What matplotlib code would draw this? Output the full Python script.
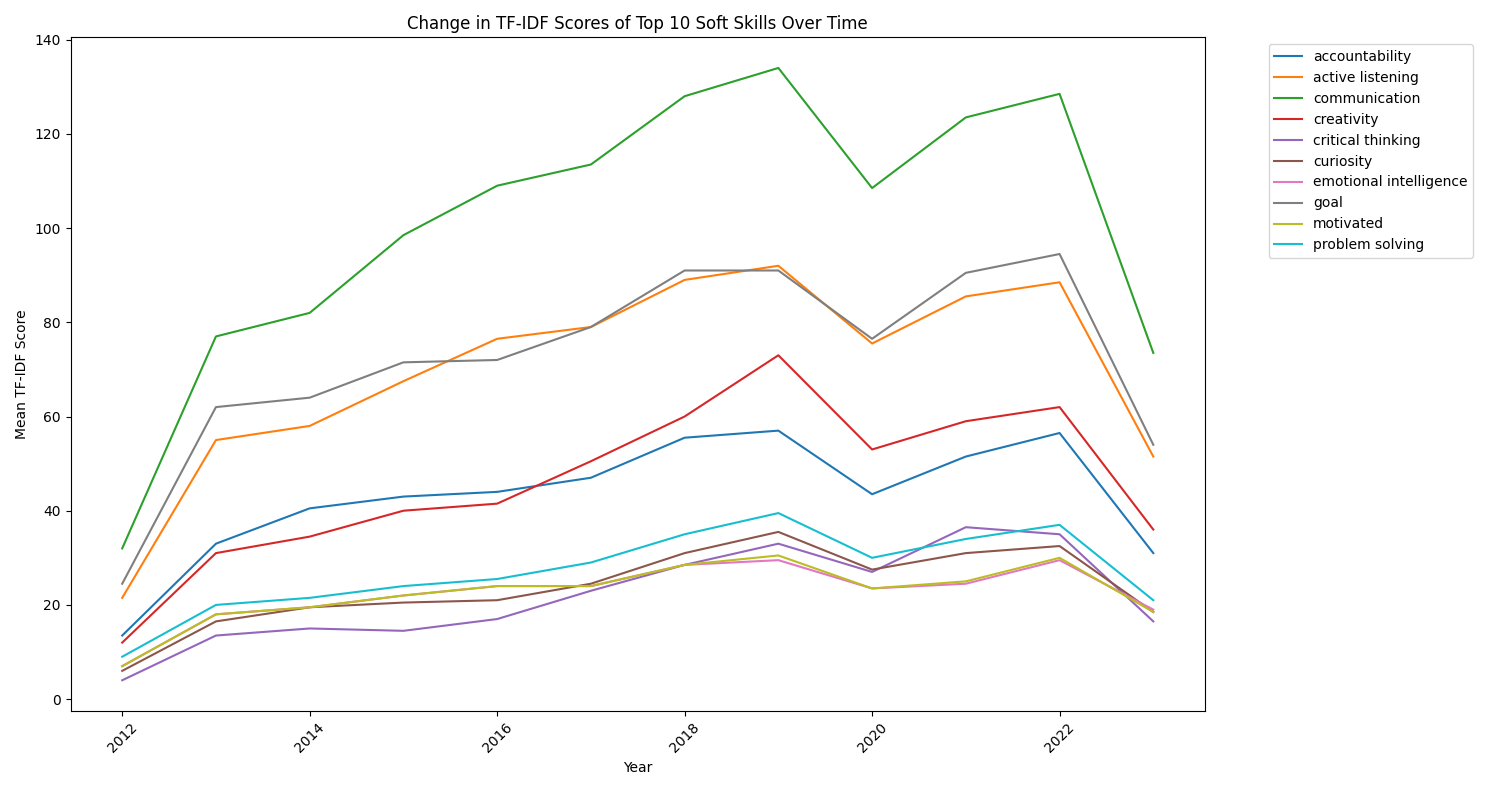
import matplotlib.pyplot as plt

years = list(range(2012, 2024))

accountability = [13.5, 33, 40.5, 43, 44, 47, 55.5, 57, 43.5, 51.5, 56.5, 31]
active_listening = [21.5, 55, 58, 67.5, 76.5, 79, 89, 92, 75.5, 85.5, 88.5, 51.5]
communication = [32, 77, 82, 98.5, 109, 113.5, 128, 134, 108.5, 123.5, 128.5, 73.5]
creativity = [12, 31, 34.5, 40, 41.5, 50.5, 60, 73, 53, 59, 62, 36]
critical_thinking = [4, 13.5, 15, 14.5, 17, 23, 28.5, 33, 27, 36.5, 35, 16.5]
curiosity = [6, 16.5, 19.5, 20.5, 21, 24.5, 31, 35.5, 27.5, 31, 32.5, 18.5]
emotional_intelligence = [7, 18, 19.5, 22, 24, 24, 28.5, 29.5, 23.5, 24.5, 29.5, 19]
goal = [24.5, 62, 64, 71.5, 72, 79, 91, 91, 76.5, 90.5, 94.5, 54]
motivated = [7, 18, 19.5, 22, 24, 24, 28.5, 30.5, 23.5, 25, 30, 18.5]
problem_solving = [9, 20, 21.5, 24, 25.5, 29, 35, 39.5, 30, 34, 37, 21]

series = {
    'accountability': accountability,
    'active listening': active_listening,
    'communication': communication,
    'creativity': creativity,
    'critical thinking': critical_thinking,
    'curiosity': curiosity,
    'emotional intelligence': emotional_intelligence,
    'goal': goal,
    'motivated': motivated,
    'problem solving': problem_solving,
}

plt.figure(figsize=(14.89, 7.9), dpi=100)
for name, vals in series.items():
    plt.plot(years, vals, label=name)

plt.title('Change in TF-IDF Scores of Top 10 Soft Skills Over Time')
plt.xlabel('Year')
plt.ylabel('Mean TF-IDF Score')
plt.xticks(rotation=45)
plt.legend(bbox_to_anchor=(1.05, 1), loc='upper left')
plt.tight_layout()
plt.savefig('out.png')
